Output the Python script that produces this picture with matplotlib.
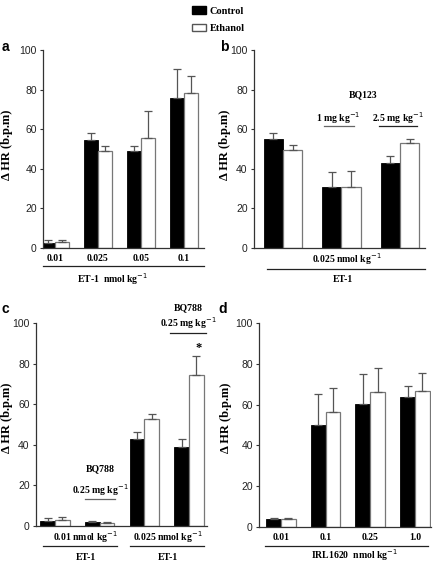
"""
Heart-rate change (delta HR) in control vs ethanol groups, four panels a-d.
"""
import matplotlib
matplotlib.use("Agg")
import matplotlib.pyplot as plt
from matplotlib.lines import Line2D
from matplotlib.patches import Patch

W, H = 438, 568

# ---- data -------------------------------------------------------------
A_LABELS      = ["0.01", "0.025", "0.05", "0.1"]
A_CONTROL     = [2.5, 54.4, 49.2, 75.6]
A_CONTROL_ERR = [1.4, 3.6, 2.3, 14.6]
A_ETHANOL     = [3.0, 49.2, 55.6, 78.5]
A_ETHANOL_ERR = [1.2, 2.3, 13.6, 8.5]

B_CONTROL     = [54.8, 31.0, 43.0]
B_CONTROL_ERR = [3.5, 7.5, 3.7]
B_ETHANOL     = [49.4, 30.7, 52.8]
B_ETHANOL_ERR = [2.4, 8.3, 2.5]

C_CONTROL     = [2.6, 1.8, 42.8, 38.7]
C_CONTROL_ERR = [1.2, 0.8, 3.7, 4.1]
C_ETHANOL     = [3.0, 1.5, 52.8, 74.5]
C_ETHANOL_ERR = [1.4, 0.6, 2.5, 9.0]

D_LABELS      = ["0.01", "0.1", "0.25", "1.0"]
D_CONTROL     = [3.9, 50.0, 60.2, 63.9]
D_CONTROL_ERR = [0.5, 15.0, 15.0, 5.0]
D_ETHANOL     = [3.9, 56.2, 66.4, 66.9]
D_ETHANOL_ERR = [0.4, 11.7, 11.5, 8.5]

# ---- style ------------------------------------------------------------
SERIF  = ["Liberation Serif", "DejaVu Serif"]
NARROW = ["Liberation Sans Narrow", "Liberation Sans", "DejaVu Sans"]
SANS   = ["Liberation Sans", "DejaVu Sans"]
BW     = 0.33
ERR_KW = dict(ecolor="#555555", elinewidth=0.9, capsize=3, capthick=0.9)

fig = plt.figure(figsize=(W / 100, H / 100), dpi=100)


def px_rect(l, r, t, b):
    return [l / W, 1 - b / H, (r - l) / W, (b - t) / H]


def ftext(x, y, s, size=7, **kw):
    kw.setdefault("family", SERIF)
    kw.setdefault("weight", "bold")
    fig.text(x / W, 1 - y / H, s, ha=kw.pop("ha", "center"), va="center",
             fontsize=size, **kw)


def fline(x0, x1, y, color="#222222"):
    fig.add_artist(Line2D([x0 / W, x1 / W], [1 - y / H, 1 - y / H],
                          color=color, lw=0.9))


def panel(rect, xlim, control, cerr, ethanol, eerr, letter, letter_xy, ylab_xy):
    ax = fig.add_axes(px_rect(*rect))
    x = list(range(len(control)))
    ax.bar([i - BW / 2 for i in x], control, BW, color="black",
           edgecolor="black", lw=0.6,
           yerr=[[0] * len(cerr), cerr], error_kw=ERR_KW)
    ax.bar([i + BW / 2 for i in x], ethanol, BW, color="white",
           edgecolor="#777777", lw=0.9,
           yerr=[[0] * len(eerr), eerr], error_kw=ERR_KW)
    ax.set_xlim(*xlim)
    ax.set_ylim(0, 100)
    ax.set_yticks(range(0, 101, 20))
    for s in ("top", "right"):
        ax.spines[s].set_visible(False)
    for s in ("left", "bottom"):
        ax.spines[s].set_color("#333333")
        ax.spines[s].set_linewidth(0.9)
    ax.tick_params(axis="y", length=2.5, width=0.8, pad=2, color="#333333")
    ax.tick_params(axis="x", length=0, pad=4)
    ax.set_xticks([])
    for t in ax.get_yticklabels():
        t.set_family(NARROW)
        t.set_fontsize(7.5)
        t.set_color("#222222")
    ftext(letter_xy[0], letter_xy[1], letter, size=10, family=SANS)
    ftext(ylab_xy[0], ylab_xy[1], "\u0394 HR (b.p.m)", size=9, rotation=90)
    return ax


# a
ax_a = panel((43, 204, 50, 248), (-0.28, 3.47), A_CONTROL, A_CONTROL_ERR,
             A_ETHANOL, A_ETHANOL_ERR, "a", (5, 47), (7, 145))
ax_a.set_xticks(range(len(A_LABELS)))
ax_a.set_xticklabels(A_LABELS, family=SERIF, weight="bold", fontsize=7)
fline(43, 204, 266)
ftext(113, 279, "ET-1  nmol kg$^{-1}$")

# b
ax_b = panel((254, 425, 50, 248), (-0.496, 2.43), B_CONTROL, B_CONTROL_ERR,
             B_ETHANOL, B_ETHANOL_ERR, "b", (224, 47), (225, 145))
ftext(363, 95, "BQ123")
ftext(338, 118, "1 mg kg$^{-1}$")
fline(324, 354, 126, "#666666")
ftext(398, 118, "2.5 mg kg$^{-1}$")
fline(379, 417, 126)
ftext(347, 259, "0.025 nmol kg$^{-1}$")
fline(267, 425, 269)
ftext(343, 279, "ET-1")

# c
ax_c = panel((36, 207, 323, 526), (-0.425, 3.40), C_CONTROL, C_CONTROL_ERR,
             C_ETHANOL, C_ETHANOL_ERR, "c", (5, 309), (7, 418))
ftext(100, 469, "BQ788")
ftext(100, 490, "0.25 mg kg$^{-1}$")
fline(85, 115, 499, "#666666")
ftext(188, 308, "BQ788")
ftext(188, 323, "0.25 mg kg$^{-1}$")
fline(170, 206, 333)
ftext(199, 348, "*", size=9)
ftext(85, 537, "0.01 nmol kg$^{-1}$")
fline(43, 117, 546)
ftext(86, 557, "ET-1")
ftext(168, 537, "0.025 nmol kg$^{-1}$")
fline(130, 204, 546)
ftext(168, 557, "ET-1")

# d
ax_d = panel((259, 431, 323, 527), (-0.49, 3.36), D_CONTROL, D_CONTROL_ERR,
             D_ETHANOL, D_ETHANOL_ERR, "d", (223, 309), (226, 418))
ax_d.set_xticks(range(len(D_LABELS)))
ax_d.set_xticklabels(D_LABELS, family=SERIF, weight="bold", fontsize=7)
fline(265, 428, 546)
ftext(355, 555, "IRL1620  nmol kg$^{-1}$")

# legend
handles = [Patch(facecolor="black", edgecolor="black", label="Control"),
           Patch(facecolor="white", edgecolor="#555555", label="Ethanol")]
fig.legend(handles=handles, loc="upper left", bbox_to_anchor=(186 / W, 1.0),
           frameon=False, borderpad=0.1, handlelength=1.3, handleheight=0.75,
           handletextpad=0.4, labelspacing=0.75,
           prop=dict(family=SERIF, weight="bold", size=7.5))

fig.savefig("out.png", dpi=100)
